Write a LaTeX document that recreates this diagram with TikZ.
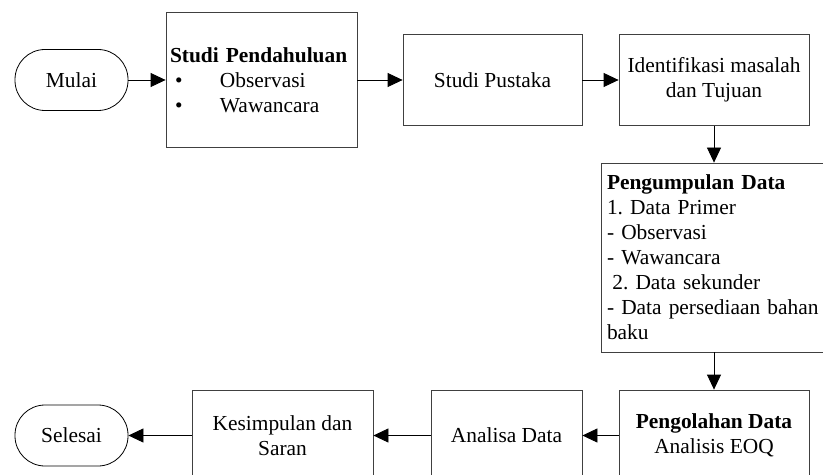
\documentclass[tikz,border=0pt]{standalone}
\usepackage{fontspec}
\setmainfont{Liberation Serif}
\usetikzlibrary{arrows.meta,positioning}
\frenchspacing

\begin{document}
\begin{tikzpicture}[on grid,auto,
    every node/.style={font=\fontsize{10.7}{12.5}\selectfont},
    box/.style={draw=black!75,rectangle,minimum height=45.5pt,align=center,inner sep=2pt},
    term/.style={draw,rectangle,rounded corners=15pt,minimum width=56.5pt,minimum height=30.5pt},
    arr/.style={-{Triangle[length=7.5pt,width=7pt]},black}]
   \useasboundingbox (0,0) rectangle (411.5pt,-237.5pt);
   \clip (0,0) rectangle (411.5pt,-237.5pt);
   \node [term] (mulai) at (35.75pt,-40pt) {Mulai};
   \node [box,text width=91.5pt,minimum height=67.5pt,align=left] (pend) [right=95pt of mulai]
     {\textbf{Studi Pendahuluan}\\
      \makebox[25pt][l]{\hspace{2.5pt}\textbullet}Observasi\\
      \makebox[25pt][l]{\hspace{2.5pt}\textbullet}Wawancara};
   \node [box,minimum width=89.5pt] (pustaka) [right=115.5pt of pend] {Studi Pustaka};
   \node [box,minimum width=95pt] (ident) [right=110.75pt of pustaka] {Identifikasi masalah\\dan Tujuan};
   \node [box,text width=107pt,inner sep=3pt,minimum height=94.5pt,align=left] (kumpul) [below=88.75pt of ident]
     {\textbf{Pengumpulan Data}\\
      1. Data Primer\\
      - Observasi\\
      - Wawancara\\
      \hspace*{0.25em}2. Data sekunder\\
      \makebox[\linewidth][s]{- Data persediaan bahan}\\
      baku};
   \node [box,minimum width=95pt] (olah) [below=89pt of kumpul] {\textbf{Pengolahan Data}\\Analisis EOQ};
   \node [box,minimum width=75.5pt] (analisa) [left=103.75pt of olah] {Analisa Data};
   \node [box,minimum width=90.5pt] (simpul) [left=112pt of analisa] {Kesimpulan dan\\Saran};
   \node [term] (selesai) [left=105.5pt of simpul] {Selesai};
    \path[arr]
    (mulai) edge (pend)
    (pend) edge (pustaka)
    (pustaka) edge (ident)
    (ident) edge (kumpul)
    (kumpul) edge (olah)
    (olah) edge (analisa)
    (analisa) edge (simpul)
    (simpul) edge (selesai);
\end{tikzpicture}
\end{document}
